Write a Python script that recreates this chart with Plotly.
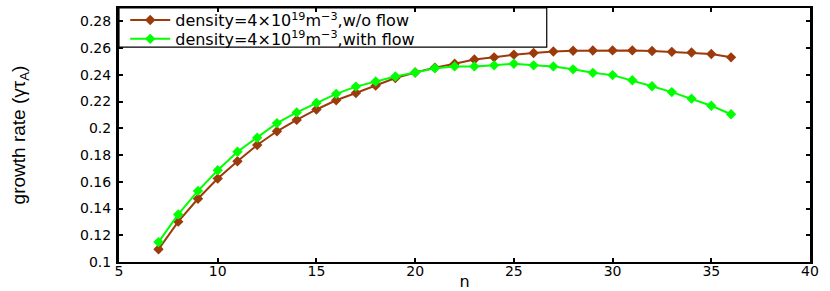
import plotly.graph_objects as go

n_values = list(range(7, 37))
growth_wo_flow = [0.1095, 0.1302, 0.1473, 0.1624, 0.1754, 0.1875, 0.1978, 0.2063,
                  0.2141, 0.2210, 0.2264, 0.2319, 0.2376, 0.2417, 0.2454, 0.2483,
                  0.2515, 0.2531, 0.2551, 0.2563, 0.2575, 0.2580, 0.2582, 0.2583,
                  0.2583, 0.2578, 0.2572, 0.2567, 0.2556, 0.2531]
growth_with_flow = [0.1149, 0.1356, 0.1532, 0.1686, 0.1825, 0.1929, 0.2039, 0.2119,
                    0.2190, 0.2258, 0.2312, 0.2351, 0.2388, 0.2417, 0.2449, 0.2463,
                    0.2463, 0.2471, 0.2483, 0.2471, 0.2463, 0.2441, 0.2415, 0.2398,
                    0.2359, 0.2315, 0.2271, 0.2222, 0.2169, 0.2105]
label_wo = "density=4×10<sup>19</sup>m<sup>−3</sup>,w/o flow"
label_with = "density=4×10<sup>19</sup>m<sup>−3</sup>,with flow"

BROWN = "#9c3a0c"
GREEN = "#00ff00"

fig = go.Figure()
fig.add_trace(go.Scatter(x=n_values, y=growth_wo_flow, name=label_wo, mode="lines+markers",
                         line=dict(color=BROWN, width=2), legend="legend",
                         marker=dict(symbol="diamond", size=8, color=BROWN)))
fig.add_trace(go.Scatter(x=n_values, y=growth_with_flow, name=label_with, mode="lines+markers",
                         line=dict(color=GREEN, width=2), legend="legend2",
                         marker=dict(symbol="diamond", size=8, color=GREEN)))

# legend frame (positioned in paper coordinates)
fig.add_shape(type="rect", xref="paper", yref="paper", x0=0, x1=0.619, y0=0.8456, y1=1.0,
              line=dict(color="black", width=1.2), fillcolor="white", layer="below")

legfont = dict(family="DejaVu Sans", size=16, color="black")
tickfont = dict(family="DejaVu Sans", size=14, color="black")
fig.update_layout(
    width=830, height=291,
    margin=dict(l=119, r=20, t=3, b=29),
    paper_bgcolor="white", plot_bgcolor="white",
    showlegend=True,
    legend=dict(x=0.009, y=1.019, xanchor="left", yanchor="top",
                bgcolor="rgba(0,0,0,0)", borderwidth=0, font=legfont, itemwidth=40),
    legend2=dict(x=0.009, y=0.945, xanchor="left", yanchor="top",
                 bgcolor="rgba(0,0,0,0)", borderwidth=0, font=legfont, itemwidth=40),
    xaxis=dict(range=[5, 40], tickvals=[5, 10, 15, 20, 25, 30, 35, 40], automargin=False,
               showgrid=False, zeroline=False, showline=True, linecolor="black",
               linewidth=1.5, mirror="ticks", ticks="inside", ticklen=4,
               tickcolor="black", tickwidth=1.5, tickfont=tickfont,
               ticklabelstandoff=-5,
               title=dict(text="n", font=dict(family="DejaVu Sans", size=16, color="black"),
                          standoff=0)),
    yaxis=dict(range=[0.1, 0.29], tickvals=[0.1, 0.12, 0.14, 0.16, 0.18, 0.2, 0.22, 0.24, 0.26, 0.28],
               automargin=False,
               showgrid=False, zeroline=False, showline=True, linecolor="black",
               linewidth=3, mirror="ticks", ticks="inside", ticklen=4,
               tickcolor="black", tickwidth=1.5, tickfont=tickfont,
               ticklabelstandoff=2,
               title=dict(text="growth rate (γτ<sub>A</sub>)",
                          font=dict(family="Liberation Sans", size=19, color="black"),
                          standoff=50)),
)

fig.write_html("out.html", config={"displayModeBar": False},
               post_script="document.body.style.margin='0';")
